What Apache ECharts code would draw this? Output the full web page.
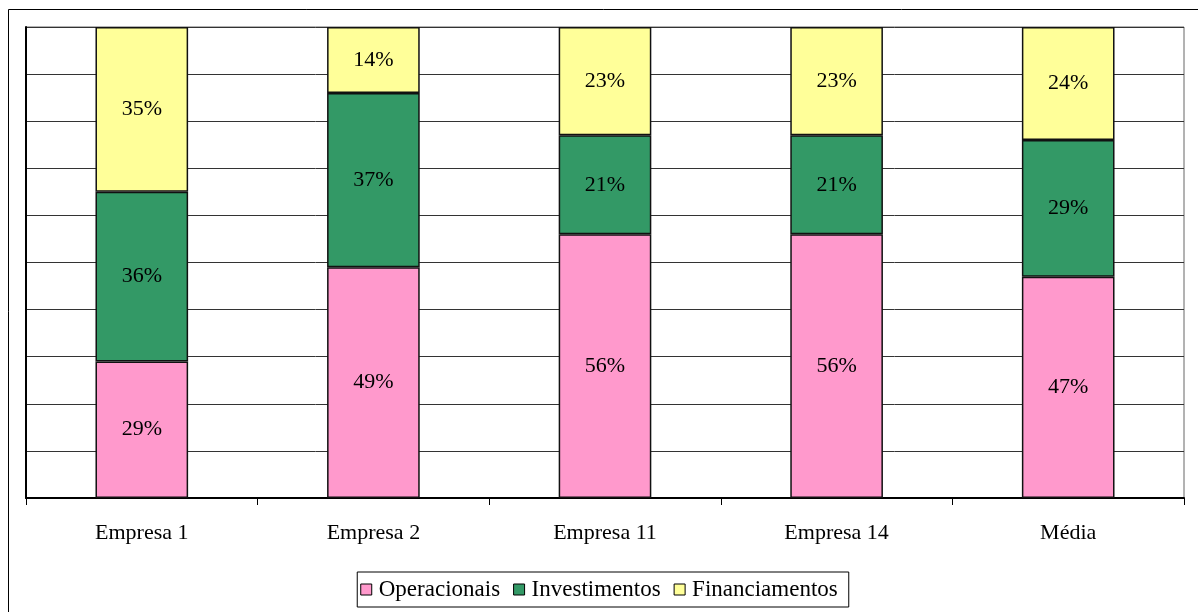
<!DOCTYPE html>
<html>
<head>
<meta charset="utf-8">
<script src="https://cdn.jsdelivr.net/npm/echarts@6/dist/echarts.min.js"></script>
<style>
  html, body { margin: 0; padding: 0; background: #fff; }
  #chart { width: 1198px; height: 612px; }
</style>
</head>
<body>
<div id="chart"></div>
<script>
// Distribution of cash flows by activity type (share of total, %)
const categories = ['Empresa 1', 'Empresa 2', 'Empresa 11', 'Empresa 14', 'Média'];
const operacionais = [29, 49, 56, 56, 47];
const investimentos = [36, 37, 21, 21, 29];
const financiamentos = [35, 14, 23, 23, 24];

const seriesNames = ['Operacionais', 'Investimentos', 'Financiamentos'];
const seriesColors = ['#FF99CC', '#339966', '#FFFF99'];
const seriesData = [operacionais, investimentos, financiamentos];

const font = '"Liberation Serif", "Times New Roman", serif';

const chart = echarts.init(document.getElementById('chart'));
chart.setOption({
  animation: false,
  backgroundColor: '#fff',
  graphic: [{
    type: 'rect',
    shape: { x: 8.5, y: 9.5, width: 1200, height: 620 },
    style: { fill: 'none', stroke: '#000', lineWidth: 1 },
    silent: true,
    z: -10
  }],
  grid: { left: 26, right: 14, top: 27, bottom: 114, containLabel: false,
          show: true, borderColor: '#666', borderWidth: 1 },
  legend: {
    bottom: 5,
    left: 'center',
    itemWidth: 11,
    itemHeight: 11,
    itemGap: 13,
    padding: [6, 11, 6, 3],
    borderColor: '#000',
    borderWidth: 1,
    icon: 'rect',
    textStyle: { fontFamily: font, fontSize: 23, color: '#000', padding: [0, 0, 0, 2] },
    data: seriesNames.map((n, i) => ({ name: n, itemStyle: { color: seriesColors[i], borderColor: '#000', borderWidth: 1 } }))
  },
  xAxis: {
    type: 'category',
    data: categories,
    axisLine: { lineStyle: { color: '#000', width: 2 } },
    axisTick: { show: true, length: 7, lineStyle: { color: '#000' } },
    axisLabel: { margin: 24, fontFamily: font, fontSize: 22, color: '#000' }
  },
  yAxis: {
    type: 'value',
    min: 0,
    max: 100,
    interval: 10,
    axisLabel: { show: false },
    axisLine: { show: true, lineStyle: { color: '#000', width: 2 } },
    axisTick: { show: false },
    splitLine: { lineStyle: { color: '#333', width: 1 } }
  },
  series: seriesNames.map((name, i) => ({
    name,
    type: 'bar',
    stack: 'total',
    barWidth: '40%',
    data: seriesData[i],
    itemStyle: { color: seriesColors[i], borderColor: '#111', borderWidth: 1.5 },
    label: {
      show: true,
      position: 'inside',
      formatter: '{c}%',
      fontFamily: font,
      fontSize: 22,
      color: '#000'
    }
  }))
});
</script>
</body>
</html>
